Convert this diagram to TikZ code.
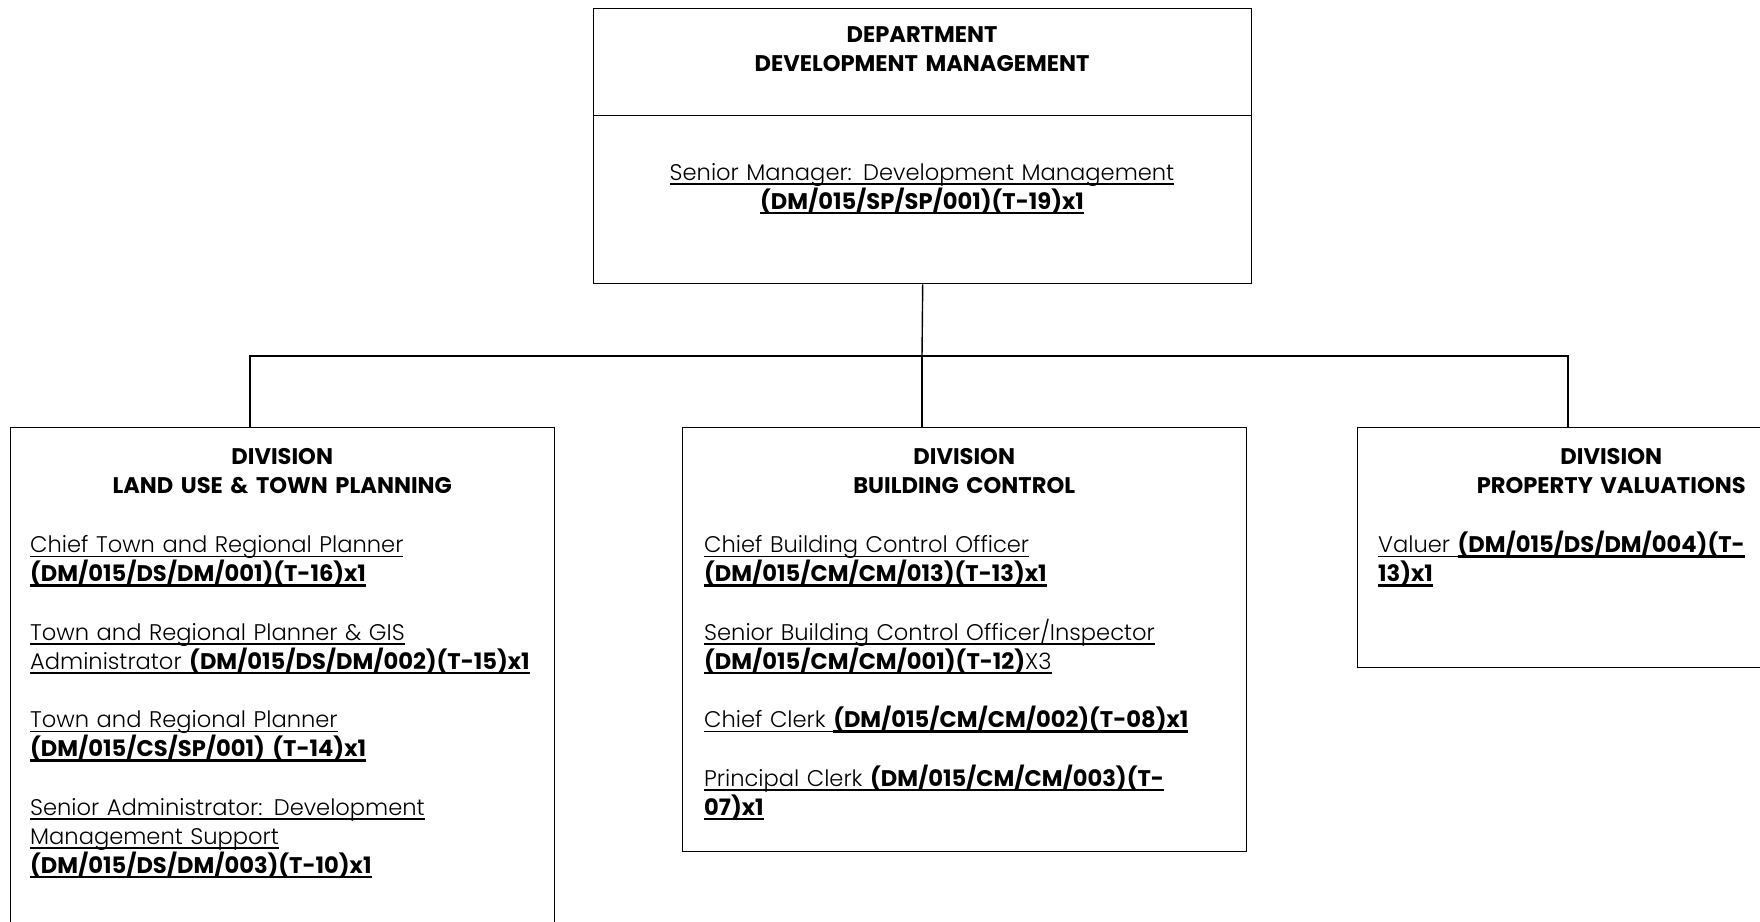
\documentclass[tikz,border=0pt]{standalone}
\usepackage{fontspec}
\setmainfont{Poppins}[UprightFont=* Light, BoldFont=* Bold]
\usetikzlibrary{positioning}

% underlined pieces of text, thin and bold
\newcommand{\ulr}[1]{\leavevmode\setbox0=\hbox{#1}\rlap{\rule[-4.5pt]{\wd0}{1.2pt}}\box0}
\newcommand{\ulb}[1]{\leavevmode\setbox0=\hbox{\bfseries #1}\rlap{\rule[-5pt]{\wd0}{2.2pt}}\box0}

\tikzset{
	box/.style = {draw, line width=1.4pt, rectangle, inner sep=0pt, anchor=north west},
	boxtext/.style = {inner sep=0pt, anchor=base west, align=left,
		font=\fontsize{22.6}{29}\selectfont},
	link/.style = {line width=1.4pt},
}

\begin{document}
\begin{tikzpicture}[x=1pt, y=-1pt]
	\useasboundingbox (0,0) rectangle (1760,921);
	\clip (0,0) rectangle (1760,921);
	
	% department
	\node[box, minimum width=658pt, minimum height=107pt] (dept) at (593,8) {};
	\node[box, minimum width=658pt, minimum height=168pt] (mgr) at (593,115) {};
	\node[boxtext, text width=640pt, align=center, anchor=base] (dept-t) at (922,42)
		{\bfseries DEPARTMENT\\DEVELOPMENT MANAGEMENT};
	\node[boxtext, text width=640pt, align=center, anchor=base] (mgr-t) at (922,180)
		{\ulr{Senior Manager: Development Management}\\\ulb{(DM/015/SP/SP/001)(T-19)x1}};
	
	% divisions
	\node[box, minimum width=544pt, minimum height=560pt] (land) at (10,427) {};
	\node[box, minimum width=564pt, minimum height=424pt] (build) at (682,427) {};
	\node[box, minimum width=508pt, minimum height=240pt] (value) at (1357,427) {};
	
	\node[boxtext, text width=504pt] (land-t) at (30,464) {%
		{\centering\bfseries DIVISION\\LAND USE \& TOWN PLANNING\par}\vspace{30.5pt}
		\ulr{Chief Town and Regional Planner}\\
		\ulb{(DM/015/DS/DM/001)(T-16)x1}\\[29.5pt]
		\ulr{Town and Regional Planner \& GIS}\\
		\ulr{Administrator }\ulb{(DM/015/DS/DM/002)(T-15)x1}\\[29.5pt]
		\ulr{Town and Regional Planner}\\
		\ulb{(DM/015/CS/SP/001) (T-14)x1}\\[29.5pt]
		\ulr{Senior Administrator: Development}\\
		\ulr{Management Support}\\
		\ulb{(DM/015/DS/DM/003)(T-10)x1}};
	
	\node[boxtext, text width=520pt] (build-t) at (704,464) {%
		{\centering\bfseries DIVISION\\BUILDING CONTROL\par}\vspace{30.5pt}
		\ulr{Chief Building Control Officer}\\
		\ulb{(DM/015/CM/CM/013)(T-13)x1}\\[29.5pt]
		\ulr{Senior Building Control Officer/Inspector}\\
		\ulb{(DM/015/CM/CM/001)(T-12)}\ulr{X3}\\[29.5pt]
		\ulr{Chief Clerk }\ulb{(DM/015/CM/CM/002)(T-08)x1}\\[29.5pt]
		\ulr{Principal Clerk }\ulb{(DM/015/CM/CM/003)(T-}\\
		\ulb{07)x1}};
	
	\node[boxtext, text width=466pt] (value-t) at (1378,464) {%
		{\centering\bfseries DIVISION\\PROPERTY VALUATIONS\par}\vspace{30.5pt}
		\ulr{Valuer }\ulb{(DM/015/DS/DM/004)(T-}\\
		\ulb{13)x1}};
	
	% connectors
	\coordinate (jm) at (922,356);
	\coordinate (jl) at (250,356);
	\coordinate (jr) at (1568,356);
	\draw[link] (mgr.south) -- (jm);
	\draw[link] (jl |- land.north) -- (jl) -- (jr) -- (jr |- value.north);
	\draw[link] (jm) -- (jm |- build.north);
\end{tikzpicture}
\end{document}
